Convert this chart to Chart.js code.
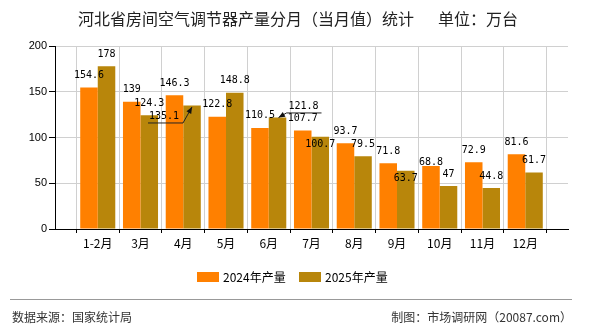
<!DOCTYPE html>
<html lang="zh-CN">
<head>
    <meta charset="UTF-8">
    <title>河北省房间空气调节器产量分月（当月值）统计</title>
    <script type="text/javascript" src="https://cdn.jsdelivr.net/npm/chart.js@4/dist/chart.umd.min.js"></script>
    <style>
        body { margin: 0; background: #fff; }
        canvas { display: block; }
    </style>
</head>
<body>
<canvas id="chart" width="590" height="330"></canvas>

<script type="text/javascript">
    // 数据
    const categories = ['1-2月', '3月', '4月', '5月', '6月', '7月', '8月', '9月', '10月', '11月', '12月'];
    const output2024 = [154.6, 139, 146.3, 122.8, 110.5, 107.7, 93.7, 71.8, 68.8, 72.9, 81.6];
    const output2025 = [178, 124.3, 135.1, 148.8, 121.8, 100.7, 79.5, 63.7, 47, 44.8, 61.7];
    const seriesNames = ['2024年产量', '2025年产量'];
    const yMin = 0, yMax = 200, yStep = 50;

    const colors = ['#FF8000', '#B8860B'];
    const cjk = '"Noto Sans CJK SC", "Noto Sans", sans-serif';

    // 数值标签的避让偏移 (数据集-月份序号)
    const labelNudge = {
        '1-2': {dx: -28, dy: 10.6, leader: [[-44, 17.6], [-9, 17.6], [0, 1.6]]},
        '1-4': {dx: 26, dy: -11.6, leader: [[44, -4.6], [9, -4.6], [1, 0]]},
        '1-5': {dx: 0, dy: 8},
        '1-7': {dx: 0, dy: 8},
        '0-8': {dx: 0, dy: -3.5}
    };

    const valueLabels = {
        id: 'valueLabels',
        afterDatasetsDraw(chart) {
            const ctx = chart.ctx;
            ctx.save();
            ctx.font = '10px "DejaVu Sans Mono", monospace';
            ctx.textAlign = 'center';
            ctx.textBaseline = 'middle';
            chart.data.datasets.forEach((ds, di) => {
                chart.getDatasetMeta(di).data.forEach((bar, i) => {
                    const v = ds.data[i];
                    if (v === null || v === undefined) return;
                    // 首尾为空白占位类目，月份序号为 i - 1
                    const n = labelNudge[di + '-' + (i - 1)];
                    let x = bar.x, y = bar.y - 12;
                    if (n) {
                        x = bar.x + n.dx;
                        y = bar.y + n.dy;
                        if (n.leader) {
                            const pts = n.leader.map(p => [bar.x + p[0], bar.y + p[1]]);
                            ctx.strokeStyle = '#222';
                            ctx.lineWidth = 1;
                            ctx.beginPath();
                            ctx.moveTo(pts[0][0], pts[0][1]);
                            for (let k = 1; k < pts.length; k++) ctx.lineTo(pts[k][0], pts[k][1]);
                            ctx.stroke();
                            // 箭头
                            const a = pts[pts.length - 2], b = pts[pts.length - 1];
                            const ang = Math.atan2(b[1] - a[1], b[0] - a[0]);
                            ctx.fillStyle = '#111';
                            ctx.beginPath();
                            ctx.moveTo(b[0], b[1]);
                            ctx.lineTo(b[0] - 7 * Math.cos(ang - 0.4), b[1] - 7 * Math.sin(ang - 0.4));
                            ctx.lineTo(b[0] - 7 * Math.cos(ang + 0.4), b[1] - 7 * Math.sin(ang + 0.4));
                            ctx.closePath();
                            ctx.fill();
                        }
                    }
                    ctx.fillStyle = '#000';
                    ctx.fillText(String(v), x, y);
                });
            });
            ctx.restore();
        }
    };

    // 标题、图例、底部说明
    const decorations = {
        id: 'decorations',
        afterDraw(chart) {
            const ctx = chart.ctx;
            ctx.save();
            ctx.fillStyle = '#222';
            ctx.textBaseline = 'middle';
            ctx.font = '16px ' + cjk;
            ctx.textAlign = 'left';
            ctx.fillText('河北省房间空气调节器产量分月（当月值）统计', 78, 19);
            ctx.fillText('单位：万台', 438, 19);

            // 图例
            ctx.font = '12px ' + cjk;
            const legendX = [197, 299];
            seriesNames.forEach((name, i) => {
                ctx.fillStyle = colors[i];
                ctx.fillRect(legendX[i], 272, 22, 10);
                ctx.fillStyle = '#000';
                ctx.fillText(name, legendX[i] + 26, 277);
            });

            // 底部
            ctx.strokeStyle = '#999';
            ctx.lineWidth = 1;
            ctx.beginPath();
            ctx.moveTo(10, 299.5);
            ctx.lineTo(572, 299.5);
            ctx.stroke();
            ctx.fillStyle = '#333';
            ctx.font = '12px ' + cjk;
            ctx.textAlign = 'left';
            ctx.fillText('数据来源：国家统计局', 12, 317);
            ctx.textAlign = 'right';
            ctx.fillText('制图：市场调研网（20087.com）', 572, 317);
            ctx.restore();
        }
    };

    new Chart(document.getElementById('chart').getContext('2d'), {
        type: 'bar',
        data: {
            labels: [''].concat(categories, ['']),
            datasets: [
                {
                    label: seriesNames[0],
                    data: [null].concat(output2024, [null]),
                    backgroundColor: colors[0],
                    borderWidth: 0
                },
                {
                    label: seriesNames[1],
                    data: [null].concat(output2025, [null]),
                    backgroundColor: colors[1],
                    borderWidth: 0
                }
            ]
        },
        options: {
            responsive: false,
            animation: false,
            devicePixelRatio: 1,
            categoryPercentage: 0.82,
            barPercentage: 1,
            layout: {padding: {top: 46, right: 22, left: 0, bottom: 71}},
            plugins: {
                legend: {display: false},
                title: {display: false},
                tooltip: {enabled: false}
            },
            scales: {
                x: {
                    offset: false,
                    grid: {color: '#d0d0d0', tickColor: '#000', tickLength: 4, drawOnChartArea: true},
                    border: {color: '#000', width: 1},
                    ticks: {color: '#000', font: {family: cjk, size: 12}, padding: 3, autoSkip: false, maxRotation: 0},
                    afterFit: function (scale) { scale.height = 30; }
                },
                y: {
                    min: yMin,
                    max: yMax,
                    grid: {color: '#d0d0d0', tickColor: '#000', tickLength: 6},
                    border: {color: '#000', width: 1},
                    ticks: {stepSize: yStep, color: '#000', font: {family: 'Liberation Sans', size: 11}, padding: 2},
                    afterFit: function (scale) { scale.width = 55; }
                }
            }
        },
        plugins: [valueLabels, decorations]
    });
</script>
</body>
</html>
